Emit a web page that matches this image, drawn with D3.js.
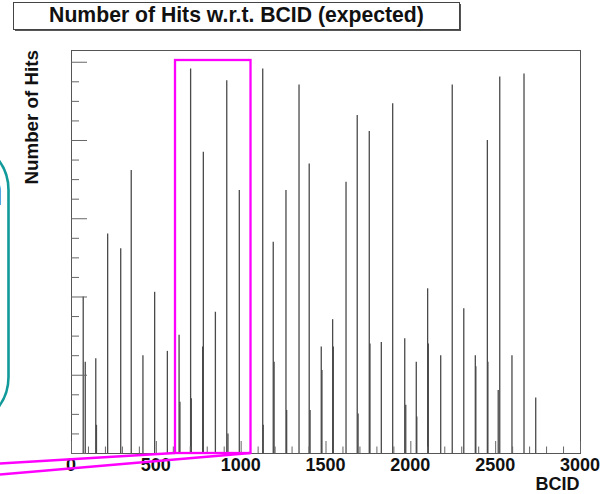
<!DOCTYPE html>
<html>
<head>
<meta charset="utf-8">
<script src="https://cdn.jsdelivr.net/npm/d3@7/dist/d3.min.js"></script>
<style>
  html, body { margin: 0; padding: 0; background: #fff; }
  svg { display: block; font-family: "Liberation Sans", Arial, Helvetica, sans-serif; }
</style>
</head>
<body>
<svg id="chart" width="604" height="494"></svg>
<script>
// Bunch crossing IDs that received hits, and the expected hit count in each
const bcid = [72, 84, 146, 150, 216, 293, 355, 424, 493, 568, 637, 642, 705, 709, 776, 780,
  851, 918, 925, 992, 1130, 1133, 1192, 1197, 1267, 1271, 1344, 1404, 1409, 1475, 1479,
  1542, 1546, 1621, 1687, 1692, 1758, 1762, 1829, 1896, 1967, 1973, 2035, 2038, 2102,
  2106, 2179, 2247, 2315, 2383, 2386, 2454, 2457, 2518, 2527, 2599, 2670, 2739];
const hits = [40.0, 23.3, 24.2, 7.2, 56.1, 52.3, 72.3, 25.0, 41.2, 26.1, 30.2, 13.1, 98.3, 14.0,
  27.2, 77.0, 36.1, 95.3, 5.0, 67.2, 98.3, 7.2, 54.0, 23.3, 67.2, 11.0, 94.2, 74.0, 11.0,
  27.2, 21.2, 34.2, 27.2, 69.3, 86.4, 10.1, 82.3, 28.0, 28.4, 89.4, 29.3, 12.3, 23.3, 9.3,
  42.1, 28.0, 25.0, 94.2, 37.0, 25.0, 22.2, 80.0, 23.3, 16.1, 96.2, 25.0, 97.0, 14.2];

const xMajorTicks = [0, 500, 1000, 1500, 2000, 2500, 3000];
const xMinorTicks = d3.range(0, 3001, 100).filter(v => v % 500 !== 0);
const yMajorTicks = [0, 20, 40, 60, 80, 100];
const yMinorTicks = d3.range(0, 101, 5).filter(v => v % 20 !== 0);

// BCID window singled out for a closer look
const windowStart = 613;
const windowEnd = 1058;

const svg = d3.select("#chart");
const frame = { left: 71, right: 580, top: 50, bottom: 453 };

const x = d3.scaleLinear().domain([0, 3000]).range([frame.left, frame.right]);
const y = d3.scaleLinear().domain([0, 103]).range([frame.bottom, frame.top]);

// background
svg.append("rect").attr("width", 604).attr("height", 494).attr("fill", "#fff");

// histogram spikes
svg.append("g")
  .selectAll("line")
  .data(bcid.map((b, i) => ({ b, h: hits[i] })))
  .join("line")
  .attr("x1", d => x(d.b)).attr("x2", d => x(d.b))
  .attr("y1", y(0)).attr("y2", d => y(d.h))
  .attr("stroke", "#4a4a4a")
  .attr("stroke-width", 1.3);

// frame
svg.append("rect")
  .attr("x", frame.left + 0.5).attr("y", frame.top + 0.5)
  .attr("width", frame.right - frame.left).attr("height", frame.bottom - frame.top)
  .attr("fill", "none").attr("stroke", "#555").attr("stroke-width", 1);

function styleAxis(g) {
  g.select(".domain").remove();
  g.selectAll(".tick line").attr("stroke", "#666").attr("stroke-width", 1);
  g.selectAll(".tick text").remove();
}

// y ticks pointing inward
svg.append("g").attr("transform", `translate(${frame.left},0)`)
  .call(d3.axisRight(y).tickValues(yMajorTicks).tickSize(16)).call(styleAxis);
svg.append("g").attr("transform", `translate(${frame.left},0)`)
  .call(d3.axisRight(y).tickValues(yMinorTicks).tickSize(8)).call(styleAxis);

// x ticks pointing inward
svg.append("g").attr("transform", `translate(0,${frame.bottom})`)
  .call(d3.axisTop(x).tickValues(xMajorTicks).tickSize(12)).call(styleAxis);
svg.append("g").attr("transform", `translate(0,${frame.bottom})`)
  .call(d3.axisTop(x).tickValues(xMinorTicks).tickSize(6.5)).call(styleAxis);

// x tick labels
svg.append("g")
  .selectAll("text")
  .data(xMajorTicks)
  .join("text")
  .attr("x", d => x(d)).attr("y", 470.5)
  .attr("text-anchor", "middle")
  .attr("font-size", 18).attr("font-weight", "bold").attr("fill", "#111")
  .text(d => d);

// axis titles
svg.append("text")
  .attr("x", 579.5).attr("y", 490)
  .attr("text-anchor", "end")
  .attr("font-size", 18).attr("font-weight", "bold").attr("fill", "#111")
  .text("BCID");

svg.append("text")
  .attr("transform", "translate(38,50) rotate(-90)")
  .attr("text-anchor", "end")
  .attr("font-size", 18.8).attr("font-weight", "bold").attr("fill", "#111")
  .text("Number of Hits");

// title box with shadow
svg.append("rect").attr("x", 15).attr("y", 4).attr("width", 446).attr("height", 27).attr("fill", "#555");
svg.append("rect")
  .attr("x", 13.5).attr("y", 2.5).attr("width", 446).attr("height", 27)
  .attr("fill", "#fff").attr("stroke", "#444").attr("stroke-width", 1);
svg.append("text")
  .attr("x", 236.5).attr("y", 22)
  .attr("text-anchor", "middle")
  .attr("font-size", 21.2).attr("font-weight", "bold").attr("fill", "#111")
  .text("Number of Hits w.r.t. BCID (expected)");

// callout box at the left edge
svg.append("rect")
  .attr("x", -300).attr("y", 140).attr("width", 308.5).attr("height", 287)
  .attr("rx", 50).attr("ry", 50)
  .attr("fill", "none").attr("stroke", "#129a9a").attr("stroke-width", 2.6);
svg.append("text")
  .attr("x", 3).attr("y", 205)
  .attr("text-anchor", "end")
  .attr("font-size", 42).attr("fill", "#111")
  .text("n");

// highlighted BCID window with zoom guides
svg.append("rect")
  .attr("x", x(windowStart)).attr("y", 60)
  .attr("width", x(windowEnd) - x(windowStart)).attr("height", frame.bottom - 60)
  .attr("fill", "none").attr("stroke", "#ff00ff").attr("stroke-width", 2.3);
svg.append("line")
  .attr("x1", 0).attr("y1", 463.5).attr("x2", x(windowStart)).attr("y2", frame.bottom)
  .attr("stroke", "#ff00ff").attr("stroke-width", 2.3);
svg.append("line")
  .attr("x1", 0).attr("y1", 474.5).attr("x2", x(windowEnd)).attr("y2", frame.bottom)
  .attr("stroke", "#ff00ff").attr("stroke-width", 2.3);
</script>
</body>
</html>
